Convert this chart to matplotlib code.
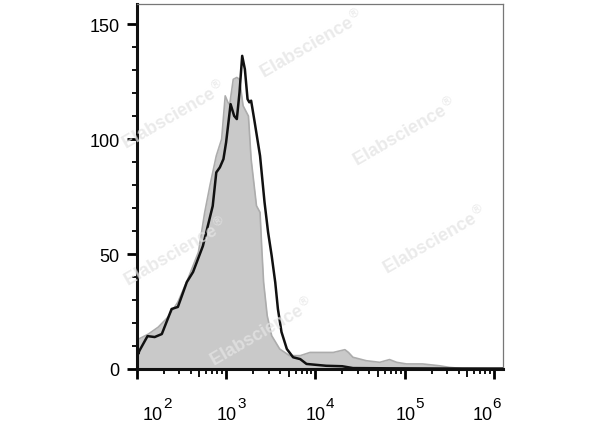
import numpy as np
import matplotlib
matplotlib.use("Agg")
import matplotlib.pyplot as plt
from matplotlib.ticker import FixedLocator, NullFormatter
from matplotlib.transforms import blended_transform_factory, ScaledTranslation

plt.rcParams['font.family'] = ['Liberation Sans', 'DejaVu Sans']

# control histogram (gray fill), x in log10 units
gray_log = [2.0, 2.02, 2.13, 2.24, 2.35, 2.46, 2.57, 2.69, 2.76, 2.82, 2.89, 2.95, 2.99, 3.02,
            3.04, 3.08, 3.12, 3.15, 3.19, 3.25, 3.28, 3.34, 3.38, 3.40, 3.42, 3.46, 3.51, 3.60,
            3.71, 3.83, 3.94, 4.09, 4.20, 4.33, 4.37, 4.42, 4.57, 4.72, 4.83, 4.91, 5.02, 5.20,
            5.39, 5.50, 5.65, 6.1]
gray_counts = [12, 13, 15.2, 18.2, 22.6, 29.1, 39, 50.8, 68, 80, 92.7, 100, 118.8, 116,
               115, 126, 126.8, 126, 114.5, 110, 91.3, 71, 68.1, 52, 37.7, 23.2, 14.5, 8.7,
               5.8, 5.8, 7.2, 7.2, 7.2, 8.4, 7.2, 5.1, 3.6, 2.9, 4.1, 2.9, 2.2, 2.2,
               1.4, 0.7, 0.2, 0]

# stained sample (black line)
black_log = [2.0, 2.015, 2.03, 2.12, 2.20, 2.28, 2.39, 2.46, 2.56, 2.63, 2.74, 2.85, 2.89,
             2.93, 2.97, 3.00, 3.05, 3.09, 3.12, 3.15, 3.18, 3.21, 3.24, 3.26, 3.28, 3.32,
             3.38, 3.43, 3.47, 3.51, 3.55, 3.58, 3.62, 3.68, 3.75, 3.83, 3.90, 4.12, 4.30,
             4.42, 4.8, 5.5, 6.1]
black_counts = [11.5, 6.5, 8, 14.3, 13.9, 15.2, 26.1, 27.0, 37.8, 42.2, 53.5, 70.9, 85.5,
                87.7, 91.3, 98.6, 115.2, 110.1, 108.7, 120.3, 136.2, 130.4, 117.4, 116, 116.7, 107.3,
                92.7, 72.6, 59.5, 49.3, 37.7, 26.1, 16.1, 8.7, 5.1, 4.3, 2.2, 1.4, 1.2,
                0.4, 0.3, 0.2, 0.2]

y_ticks = [0, 50, 100, 150]
x_decades = [2, 3, 4, 5, 6]
# horizontal nudge of each decade label (pixels), first and last pulled inward
x_label_nudge = [16, 1, 0, 1, -11.5]

# watermark spots (figure pixel centres)
wm_spots = [(312, 44), (174, 115), (405, 132), (435, 240), (176, 252), (262, 332)]

gx = 10 ** np.array(gray_log)
bx = 10 ** np.array(black_log)

fig = plt.figure(figsize=(6, 4.27), dpi=100)
ax = fig.add_axes([0.228, 0.1335, 0.61, 0.8545])

ax.fill_between(gx, 0, gray_counts, color='#c9c9c9', lw=0, zorder=1)
ax.plot(gx, gray_counts, color='#acacac', lw=1.2, zorder=2)
ax.plot(bx, black_counts, color='#111111', lw=1.8, zorder=3)

ax.set_xscale('log')
ax.set_xlim(10 ** 2, 10 ** 6.098)
ax.set_ylim(0, 158.7)

# x ticks: majors at decades, short minors, medium tick at 5x
decade_pos = [10.0 ** d for d in x_decades]
minor_pos = [m * 10.0 ** d for d in x_decades[:-1] for m in [2, 3, 4, 6, 7, 8, 9]]
minor_pos = [p for p in minor_pos if p < 10 ** 6.098]
mid_pos = [5 * 10.0 ** d for d in x_decades[:-1]]
ax.xaxis.set_major_locator(FixedLocator(decade_pos))
ax.xaxis.set_minor_locator(FixedLocator(minor_pos))
ax.xaxis.set_major_formatter(NullFormatter())
ax.xaxis.set_minor_formatter(NullFormatter())

trans = blended_transform_factory(ax.transData, ax.transAxes)
ax.plot(mid_pos, [0] * len(mid_pos), ls='', marker=3, markersize=5.5, mew=1.4,
        color='#111111', transform=trans, clip_on=False, zorder=5)

for d, pos, nudge in zip(x_decades, decade_pos, x_label_nudge):
    t_base = trans + ScaledTranslation(nudge / 100, -50 / 100, fig.dpi_scale_trans)
    ax.text(pos, 0, '10', transform=t_base, fontsize=13, ha='center', va='baseline')
    t_sup = trans + ScaledTranslation((nudge + 10) / 100, -38 / 100, fig.dpi_scale_trans)
    ax.text(pos, 0, str(d), transform=t_sup, fontsize=11, ha='left', va='baseline')

ax.set_yticks(y_ticks)
ax.set_yticklabels([str(v) for v in y_ticks], fontsize=13)
ax.yaxis.set_minor_locator(FixedLocator(np.arange(0, 160, 10)))

ax.tick_params(axis='x', which='major', length=7.5, width=2, direction='out')
ax.tick_params(axis='x', which='minor', length=3.5, width=1.3, direction='out')
ax.tick_params(axis='y', which='major', length=7.5, width=2, pad=5, direction='out')
ax.tick_params(axis='y', which='minor', length=3.5, width=1.3, direction='out')

for s in ['left', 'bottom']:
    ax.spines[s].set_linewidth(2.2)
    ax.spines[s].set_color('#111111')
for s in ['top', 'right']:
    ax.spines[s].set_linewidth(0.9)
    ax.spines[s].set_color('#777777')

for (px, py) in wm_spots:
    fig.text(px / 600, 1 - py / 427, 'Elabscience$^{®}$', fontsize=13, fontweight='bold',
             color='#e4e4e4', alpha=0.75, rotation=30, ha='center', va='center', zorder=10)

fig.savefig('out.png', dpi=100)
